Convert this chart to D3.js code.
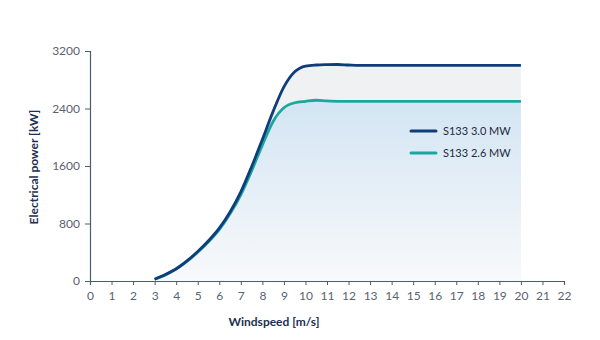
<!DOCTYPE html>
<html><head><meta charset="utf-8">
<script src="https://cdn.jsdelivr.net/npm/d3@7"></script>
<style>body{margin:0;background:#fff}svg{display:block}text{font-family:Lato,"Open Sans",sans-serif}</style>
</head><body><svg id="c" width="600" height="340"></svg>
<script>
const windSpeeds = [3,3.5,4,4.5,5,5.5,6,6.5,7,7.5,8,8.5,9,9.5,10,10.5,11,11.5,12,12.5,13,14,15,16,17,18,19,20];
const power30 = [25,90,170,280,410,560,735,960,1240,1590,1970,2360,2700,2910,2990,3005,3010,3012,3005,3000,3000,3000,3000,3000,3000,3000,3000,3000];
const power26 = [25,85,165,272,400,545,715,935,1200,1530,1890,2220,2410,2480,2500,2515,2505,2500,2500,2500,2500,2500,2500,2500,2500,2500,2500,2500];
const xTicks = [0,1,2,3,4,5,6,7,8,9,10,11,12,13,14,15,16,17,18,19,20,21,22];
const yTicks = [0,800,1600,2400,3200];
const seriesNames = ["S133 3.0 MW","S133 2.6 MW"];
const seriesColors = ["#0f3d7c","#1ba7a0"];

const svg = d3.select("#c");
const x = d3.scaleLinear().domain([0,22]).range([90,564]);
const y = d3.scaleLinear().domain([0,3200]).range([281,51]);

const defs = svg.append("defs");
const g = defs.append("linearGradient").attr("id","bg").attr("x1",0).attr("y1",0).attr("x2",0).attr("y2",1);
g.append("stop").attr("offset","0%").attr("stop-color","#d3e5f3");
g.append("stop").attr("offset","100%").attr("stop-color","#f8f9fb");

const d30 = windSpeeds.map((w,i)=>[w,power30[i]]);
const d26 = windSpeeds.map((w,i)=>[w,power26[i]]);
const curve = d3.curveMonotoneX;
const area = d3.area().x(d=>x(d[0])).y0(y(0)).y1(d=>y(d[1])).curve(curve);
const line = d3.line().x(d=>x(d[0])).y(d=>y(d[1])).curve(curve);

svg.append("path").attr("d",area(d30)).attr("fill","#eff1f2");
svg.append("path").attr("d",area(d26)).attr("fill","url(#bg)");

const xa = svg.append("g").attr("transform",`translate(0,${y(0)})`)
  .call(d3.axisBottom(x).tickValues(xTicks).tickSize(4).tickPadding(6).tickFormat(d3.format("d")));
const ya = svg.append("g").attr("transform",`translate(${x(0)},0)`)
  .call(d3.axisLeft(y).tickValues(yTicks).tickSize(5).tickPadding(5).tickFormat(d3.format("d")));
[xa,ya].forEach(a=>{
  a.select(".domain").attr("stroke","#4d5d6e").attr("stroke-width",1.2);
  a.selectAll(".tick line").attr("stroke","#4d5d6e");
  a.selectAll(".tick text").attr("fill","#59636e").attr("font-size",12).attr("font-family","Lato,'Open Sans',sans-serif");
});

svg.append("path").attr("d",line(d26)).attr("fill","none").attr("stroke",seriesColors[1]).attr("stroke-width",2.8);
svg.append("path").attr("d",line(d30)).attr("fill","none").attr("stroke",seriesColors[0]).attr("stroke-width",2.8);

svg.append("text").attr("x",274).attr("y",326).attr("text-anchor","middle")
  .attr("font-size",12).attr("font-weight","bold").attr("fill","#1d3050").text("Windspeed [m/s]");
svg.append("text").attr("transform","translate(38,167) rotate(-90)").attr("text-anchor","middle")
  .attr("font-size",12).attr("font-weight","bold").attr("fill","#1d3050").text("Electrical power [kW]");

seriesNames.forEach((n,i)=>{
  const ly = 131 + i*22;
  svg.append("line").attr("x1",411).attr("x2",436).attr("y1",ly).attr("y2",ly)
    .attr("stroke",seriesColors[i]).attr("stroke-width",3).attr("stroke-linecap","round");
  svg.append("text").attr("x",443).attr("y",ly+4).attr("font-size",11).attr("fill","#1d2a3e").text(n);
});
</script></body></html>
